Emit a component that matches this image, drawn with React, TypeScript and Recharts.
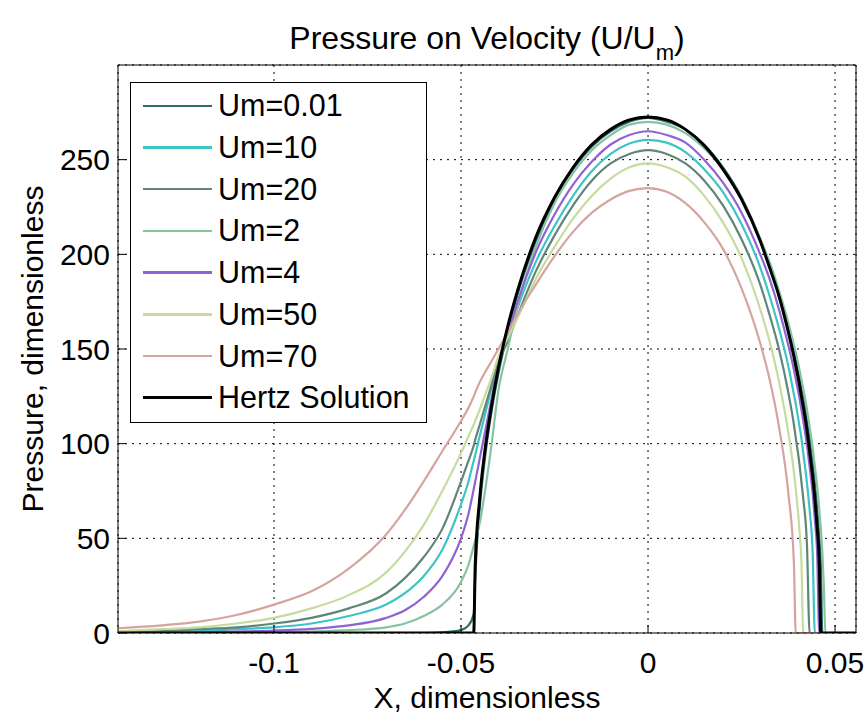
import { LineChart, Line, XAxis, YAxis, CartesianGrid, Legend, Label } from "recharts";

const FONT = '"Liberation Sans", Arial, Helvetica, sans-serif';

const xGrid = [
  -0.1417, -0.13, -0.12, -0.11, -0.1, -0.09, -0.08, -0.07, -0.065, -0.06, -0.055, -0.05, -0.048, -0.0466,
  -0.0462, -0.045, -0.0435, -0.042, -0.04, -0.0375, -0.035, -0.03, -0.025, -0.02, -0.015, -0.01, -0.005,
  0,
  0.005, 0.01, 0.015, 0.02, 0.025, 0.03, 0.0325, 0.035, 0.0375, 0.039, 0.0395, 0.0405, 0.041, 0.0415,
  0.0425, 0.0432, 0.044, 0.0446, 0.0452, 0.0458, 0.0462, 0.0466, 0.047, 0.0474, 0.0556,
];

const um001 = [
  0, 0, 0, 0, 0, 0, 0, 0, 0, 0, 0.3, 1.5, 4, 10, 30, 66, 94, 115, 137, 159, 178, 207, 229, 245, 257, 265, 270,
  272,
  270, 266, 258, 246, 230, 208, 195, 180, 162, 149, 144, 135, 129, 124, 112, 102, 90, 79, 66, 50, 36, 0, 0, 0, 0,
];
const um10 = [
  0.3, 0.6, 1, 2, 3, 5, 9, 15, 21, 30, 44, 68, 80, 91, 94, 104, 116, 128, 142, 156, 171, 196, 215, 231, 244, 253, 258.5,
  260.5,
  259, 254, 245, 233, 216, 193, 178, 161, 141, 126, 121, 109, 103, 95, 79, 65, 43, 0, 0, 0, 0, 0, 0, 0, 0,
];
const um20 = [
  0.5, 1, 2, 3, 5, 8, 13, 21, 29, 40, 55, 80, 91, 99, 102, 110, 120, 130, 143, 154, 167, 191, 210, 226, 239, 248, 253,
  255,
  253, 248, 239, 226, 208, 184, 168, 150, 127, 110, 103, 89, 80, 71, 46, 0, 0, 0, 0, 0, 0, 0, 0, 0, 0,
];
const um2 = [
  0, 0, 0.1, 0.2, 0.4, 0.8, 1.5, 3, 5, 9, 15, 27, 36, 46, 49, 58, 76, 97, 128, 150, 172, 204, 227, 243, 255, 263, 268.5,
  270,
  268.5, 264, 256, 245, 229, 208, 196, 181, 164, 152, 148, 139, 134, 129, 118, 109, 98, 88, 78, 65, 55, 43, 25, 0, 0,
];
const um4 = [
  0, 0.2, 0.4, 0.8, 1.3, 2.2, 4, 8, 12, 19, 30, 50, 63, 76, 80, 92, 107, 122, 141, 158, 174, 201, 221, 237, 249, 258, 263,
  265,
  263, 259, 250, 238, 222, 200, 187, 171, 152, 139, 134, 124, 118, 112, 99, 88, 74, 60, 43, 0, 0, 0, 0, 0, 0,
];
const um50 = [
  1, 2, 3, 5, 8, 13, 20, 32, 43, 57, 75, 95, 104, 110, 112, 118, 126, 134, 146, 156, 166, 187, 204, 219, 231, 240, 246,
  248,
  246, 241, 231, 217, 198, 171, 154, 133, 106, 85, 76, 54, 38, 0, 0, 0, 0, 0, 0, 0, 0, 0, 0, 0, 0,
];
const um70 = [
  2.5, 4, 6, 9.5, 15, 22, 34, 52, 65, 80, 96, 112, 119, 125, 127, 132.5, 138, 143, 150, 159, 168, 184, 199, 212, 222, 229, 233.5,
  235,
  233, 227, 217, 203, 182, 153, 134, 109, 74, 37, 0, 0, 0, 0, 0, 0, 0, 0, 0, 0, 0, 0, 0, 0, 0,
];
const hertz = [
  0, 0, 0, 0, 0, 0, 0, 0, 0, 0, 0, 0, 0, 0, 35.7, 71, 98, 118, 140, 162, 180, 209, 230, 246, 258, 266, 271,
  272.5,
  271, 266, 257.5, 245, 229, 207, 193, 178, 159, 146, 141, 131, 125, 119.5, 107, 96, 83, 71, 56, 36, 0, 0, 0, 0, 0,
];

const xTicks = [-0.1, -0.05, 0, 0.05];
const yTicks = [0, 50, 100, 150, 200, 250];
const xDomain = [-0.1417, 0.0556];
const yDomain = [0, 300];

const series = [
  { key: "um001", name: "Um=0.01", color: "#2f6e68", width: 2.2, values: um001 },
  { key: "um10", name: "Um=10", color: "#3ec4c4", width: 2.2, values: um10 },
  { key: "um20", name: "Um=20", color: "#5f8676", width: 2.2, values: um20 },
  { key: "um2", name: "Um=2", color: "#86c4a0", width: 2.2, values: um2 },
  { key: "um4", name: "Um=4", color: "#8f62d6", width: 2.2, values: um4 },
  { key: "um50", name: "Um=50", color: "#c6dc9e", width: 2.2, values: um50 },
  { key: "um70", name: "Um=70", color: "#d6a49e", width: 2.2, values: um70 },
  { key: "hertz", name: "Hertz Solution", color: "#000000", width: 3, values: hertz },
];

const rows = xGrid.map((x, i) => {
  const row: Record<string, number> = { x };
  series.forEach((s) => {
    row[s.key] = s.values[i];
  });
  return row;
});

const LegendBox = () => (
  <div
    style={{
      position: "relative",
      width: 297,
      height: 341,
      boxSizing: "border-box",
      border: "1px solid #000",
      background: "#fff",
      fontFamily: FONT,
    }}
  >
    {series.map((s, i) => (
      <div
        key={s.key}
        style={{ position: "absolute", left: 0, top: 2 + i * 41.7, height: 41.7, width: "100%", display: "flex", alignItems: "center" }}
      >
        <div style={{ marginLeft: 12, width: 69, height: s.key === "hertz" ? 3 : 2.5, background: s.color }} />
        <span style={{ marginLeft: 6, fontSize: 30.5, color: "#000", whiteSpace: "nowrap" }}>{s.name}</span>
      </div>
    ))}
  </div>
);

const tickStyle = { fill: "#000", fontSize: 30, fontFamily: FONT };

export default function App() {
  return (
    <div style={{ position: "absolute", left: 0, top: 0, width: 867, height: 717, background: "#fff", fontFamily: FONT }}>
      <div
        style={{ position: "absolute", left: 118, width: 738, top: 22, textAlign: "center", fontSize: 32, lineHeight: "32px", color: "#000" }}
      >
        Pressure on Velocity (U/U
        <span style={{ fontSize: 22, position: "relative", top: 11 }}>m</span>)
      </div>
      <LineChart width={867} height={717} data={rows} margin={{ top: 64, right: 10, bottom: 0, left: 0 }}>
        <CartesianGrid xAxisId="b" yAxisId="l" stroke="#000" strokeDasharray="2 5" />
        <XAxis
          xAxisId="b"
          dataKey="x"
          type="number"
          domain={xDomain}
          ticks={xTicks}
          interval={0}
          allowDataOverflow
          height={84}
          tickSize={-8}
          tickMargin={27}
          tick={tickStyle}
          stroke="#000"
        >
          <Label value="X, dimensionless" position="center" dy={22} fill="#000" fontSize={30} fontFamily={FONT} />
        </XAxis>
        <XAxis
          xAxisId="t"
          orientation="top"
          dataKey="x"
          type="number"
          domain={xDomain}
          ticks={xTicks}
          interval={0}
          allowDataOverflow
          height={1}
          tickSize={-8}
          tick={false}
          stroke="#000"
        />
        <YAxis
          yAxisId="l"
          type="number"
          domain={yDomain}
          ticks={yTicks}
          interval={0}
          allowDataOverflow
          width={118}
          tickSize={-8}
          tickMargin={16}
          tick={tickStyle}
          stroke="#000"
        >
          <Label value="Pressure, dimensionless" angle={-90} position="center" dx={-27} fill="#000" fontSize={30} fontFamily={FONT} />
        </YAxis>
        <YAxis
          yAxisId="r"
          orientation="right"
          type="number"
          domain={yDomain}
          ticks={yTicks}
          interval={0}
          allowDataOverflow
          width={1}
          tickSize={-8}
          tick={false}
          stroke="#000"
        />
        {series.map((s) => (
          <Line
            key={s.key}
            xAxisId="b"
            yAxisId="l"
            type="monotone"
            dataKey={s.key}
            name={s.name}
            stroke={s.color}
            strokeWidth={s.width}
            dot={false}
            activeDot={false}
            isAnimationActive={false}
          />
        ))}
        <Legend
          layout="vertical"
          align="center"
          verticalAlign="middle"
          wrapperStyle={{ left: 130, top: 82, width: 297, height: 341 }}
          content={() => <LegendBox />}
        />
      </LineChart>
    </div>
  );
}
